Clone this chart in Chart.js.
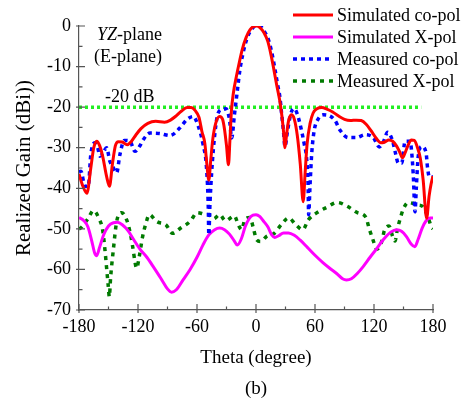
<!DOCTYPE html>
<html>
<head>
<meta charset="utf-8">
<script src="https://cdn.jsdelivr.net/npm/chart.js@4.4.0/dist/chart.umd.min.js"></script>
<style>
  html, body { margin: 0; padding: 0; background: #fff; }
</style>
</head>
<body>
<canvas id="gainChart" width="463" height="400"></canvas>
<script>
// E-plane (YZ) realized gain patterns, theta in degrees, gain in dBi
const simCoTheta = [-180, -176, -172, -168, -165, -162, -159, -156, -152, -149, -146, -143, -140, -136, -131, -127, -122, -117, -110, -102, -93, -87, -82, -76, -70, -66, -62, -58, -55, -52, -50, -48, -46, -44, -41, -37, -34, -32, -30, -28, -26.5, -25, -23, -20, -17, -14, -10, -6, -2, 1, 4, 8, 12, 15, 18, 21, 24, 26, 28, 29.5, 31, 33, 36, 39, 42, 45, 48, 50, 52, 55, 58, 62, 67, 72, 78, 84, 90, 96, 102, 107, 112, 117, 122, 127, 131, 135, 139, 143, 146, 149, 152, 155, 158, 161, 164, 167, 170, 173.5, 176, 178, 180];
const simCoGain = [-36.5, -39.5, -41.2, -35, -30, -28.4, -29.5, -32, -37, -39.5, -34, -29.5, -28.5, -28.6, -29.3, -28.5, -26.8, -25.3, -24, -23.5, -23.7, -23.2, -22.3, -21, -20.1, -20.1, -20.8, -22.5, -26, -29, -34, -38, -33, -28, -24, -22.3, -23, -25.5, -29.5, -34.2, -28, -21, -16.5, -12.5, -9, -5.8, -2.8, -0.9, -0.1, 0, -0.4, -1.6, -3.8, -6.8, -10.5, -14.5, -18.2, -21.5, -26, -30, -27, -23.5, -21.9, -23, -27, -34, -43.3, -36, -29, -24, -21.5, -20.4, -20.1, -20.5, -21.2, -22.2, -23, -23.3, -23.2, -23.3, -24.2, -25.8, -27.6, -28.8, -28.6, -28.1, -28.4, -29.6, -31, -32.5, -31, -29.2, -28.1, -28.2, -29.8, -32.5, -38, -47.4, -42, -39, -37];

const simXTheta = [-180, -175, -171, -167, -164, -162, -159, -155, -150, -145, -141, -136, -130, -124, -118, -111, -104, -96, -90, -86, -81, -74, -67, -60, -54, -48, -42, -37, -32, -27, -22, -19, -15, -11, -7, -3, 0, 4, 8, 12, 16, 19, 23, 28, 33, 39, 45, 52, 60, 68, 75, 82, 88, 92, 97, 103, 109, 116, 123, 130, 137, 143, 148, 153, 158, 161.5, 165, 169, 173, 177, 180];
const simXGain = [-47.2, -48, -49.5, -53, -56, -56.6, -54.5, -51.5, -49.3, -48.5, -48.4, -49, -50.5, -52.8, -55, -57, -59.5, -62.5, -64.8, -65.6, -65, -62.5, -60, -57, -54, -51.5, -50.2, -49.8, -50.2, -51.3, -53, -54, -52.5, -49.5, -47.5, -46.6, -46.5, -47, -48.2, -49.5, -51.5, -52.1, -51.7, -51, -51, -51.6, -52.8, -54.5, -56.5, -58.3, -59.7, -61, -62.3, -62.6, -62.3, -61, -59.3, -57, -54.8, -52.5, -50.8, -50.2, -50.6, -51.9, -53.8, -54.4, -52.5, -49.8, -48, -47.3, -47.3];

const measCoTheta = [-180, -178, -174, -170.6, -168, -164, -161, -158.7, -155, -152, -148.5, -145, -141.7, -138.4, -134, -128.2, -123.1, -118, -114.6, -107.8, -97.7, -87.5, -77.3, -70.5, -63.8, -58.7, -54, -50.2, -48.5, -48, -46.8, -43.4, -38.4, -34, -30.5, -27, -24.7, -22, -19, -16.3, -13, -9.5, -5, 0, 4, 8, 12.5, 16, 19.3, 22, 24.4, 26, 27.8, 29.5, 32, 35, 38, 40, 43, 46.5, 49, 51.6, 53, 53.5, 55, 56.7, 59.3, 63, 68.5, 73, 80.4, 85.5, 93.9, 102.4, 110.9, 119.3, 125.4, 129.5, 133.9, 139, 141.4, 144.8, 148.2, 151.6, 156.7, 158.4, 160, 161.7, 163, 165, 168.6, 173, 174.3, 176.3, 180];
const measCoGain = [-36, -35.8, -39.5, -39.5, -31.7, -28.8, -30, -32.1, -31, -30, -33.4, -35, -36.2, -31.7, -28.2, -28.4, -30.9, -29.5, -28, -26.4, -26.5, -27, -25.1, -23.1, -22.3, -24.7, -29, -35.4, -45, -51.5, -43.7, -30.5, -21.4, -20.5, -20.4, -23, -27.6, -22, -16, -10.7, -6.5, -3.3, -1, 0, 0, -1.2, -3.3, -6.5, -10.7, -14.5, -17.7, -21.5, -25.6, -29.7, -26, -22, -20.4, -20.6, -22.5, -26, -29, -33, -39.5, -46.5, -39, -31.3, -25.6, -23, -21.9, -22, -23.3, -25.7, -27.5, -27.5, -26.8, -27.5, -29.8, -28.6, -26.2, -28.4, -30.9, -33.8, -33.8, -28.4, -28.4, -31.3, -37, -45.8, -40, -32.1, -29.7, -31.3, -34.6, -37.2, -37.2];

const measXTheta = [-180, -178.3, -170.6, -165.5, -159.4, -156, -153.6, -151.9, -150.2, -149.2, -147.8, -145.1, -141.7, -136.6, -131.5, -128.2, -125.4, -123.1, -121.4, -118.7, -115.3, -111.9, -108.5, -101, -91.6, -84.8, -76.6, -67.1, -59.7, -51.9, -48.5, -43, -37, -31, -22, -18, -14.6, -11.2, -6.1, -2.7, 0.7, 4.8, 11, 18.6, 25.6, 33.3, 40.2, 47.6, 53.2, 62, 71.9, 82.7, 93.3, 103.1, 111.6, 115.3, 118.7, 122.8, 127.9, 130.5, 135.3, 139, 141.4, 143.7, 146.5, 149.8, 154.9, 159.4, 165.1, 169.6, 174.7, 178.7, 180];
const measXGain = [-50, -49.8, -47.4, -45.5, -47.6, -50.2, -55.2, -59.7, -64.2, -66.7, -61.8, -55.2, -48.2, -46, -47.8, -50.7, -54.4, -58.1, -59.7, -56.8, -51.9, -48.6, -46.5, -48.2, -49, -51.1, -49.8, -48.2, -46, -46.4, -46.5, -47.5, -46.5, -48, -46.8, -49, -50.2, -47.6, -47.2, -49.8, -52.7, -53.1, -51.8, -51.1, -49, -47.3, -48.9, -50.2, -47.8, -46, -44.7, -43.5, -44.5, -46, -47.1, -50.1, -52.5, -55, -53.1, -50.5, -49.3, -51.9, -53, -50.2, -47.6, -45.1, -43.5, -43.7, -44.1, -44.5, -47, -49.7, -50];

// -20 dB reference level
const refTheta = [-180, 168];
const refGain = [-20, -20];

const seriesNames = ['Simulated co-pol', 'Simulated X-pol', 'Measured co-pol', 'Measured X-pol'];

const SERIF = '"Liberation Serif", "Times New Roman", serif';

function pts(xs, ys) {
  return xs.map((x, i) => ({ x: x, y: ys[i] }));
}

// inward tick marks (major + minor) on the left and bottom axes
const axisTicks = {
  id: 'axisTicks',
  afterDraw(chart) {
    const { ctx, scales: { x, y } } = chart;
    ctx.save();
    ctx.strokeStyle = '#555';
    ctx.lineWidth = 1.2;
    ctx.beginPath();
    x.ticks.forEach((t, i) => {
      const px = x.getPixelForValue(t.value);
      ctx.moveTo(px, y.bottom + 3);
      ctx.lineTo(px, y.bottom - 6);
      if (i < x.ticks.length - 1) {
        const mx = x.getPixelForValue((t.value + x.ticks[i + 1].value) / 2);
        ctx.moveTo(mx, y.bottom);
        ctx.lineTo(mx, y.bottom - 3.5);
      }
    });
    y.ticks.forEach((t, i) => {
      const py = y.getPixelForValue(t.value);
      ctx.moveTo(x.left - 3, py);
      ctx.lineTo(x.left + 6, py);
      if (i < y.ticks.length - 1) {
        const my = y.getPixelForValue((t.value + y.ticks[i + 1].value) / 2);
        ctx.moveTo(x.left, my);
        ctx.lineTo(x.left + 3.5, my);
      }
    });
    ctx.stroke();
    ctx.restore();
  }
};

// plane label, reference label, caption and legend
const annotations = {
  id: 'annotations',
  afterDraw(chart) {
    const { ctx } = chart;
    ctx.save();
    ctx.fillStyle = '#000';
    ctx.textBaseline = 'middle';
    ctx.textAlign = 'left';

    ctx.font = 'italic 18px ' + SERIF;
    ctx.fillText('YZ', 97, 35);
    const w = ctx.measureText('YZ').width;
    ctx.font = '18px ' + SERIF;
    ctx.fillText('-plane', 97 + w, 35);
    ctx.fillText('(E-plane)', 94, 57);
    ctx.fillText('-20 dB', 105, 97);

    ctx.textAlign = 'center';
    ctx.font = '19px ' + SERIF;
    ctx.fillText('(b)', 256, 389);

    // legend
    ctx.textAlign = 'left';
    ctx.font = '18px ' + SERIF;
    const rowY = [15, 37, 59, 81];
    chart.data.datasets.slice(0, 4).forEach((ds, i) => {
      ctx.save();
      ctx.strokeStyle = ds.borderColor;
      ctx.lineWidth = ds.borderWidth;
      ctx.setLineDash(ds.borderDash || []);
      ctx.beginPath();
      ctx.moveTo(293, rowY[i]);
      ctx.lineTo(333, rowY[i]);
      ctx.stroke();
      ctx.restore();
      ctx.fillText(ds.label, 337, rowY[i] + 1);
    });
    ctx.restore();
  }
};

new Chart(document.getElementById('gainChart').getContext('2d'), {
  type: 'scatter',
  data: {
    datasets: [
      {
        label: seriesNames[0],
        data: pts(simCoTheta, simCoGain),
        borderColor: '#ff0000',
        borderWidth: 3,
        order: 1
      },
      {
        label: seriesNames[1],
        data: pts(simXTheta, simXGain),
        borderColor: '#ff00ff',
        borderWidth: 3,
        order: 3
      },
      {
        label: seriesNames[2],
        data: pts(measCoTheta, measCoGain),
        borderColor: '#0000ff',
        borderWidth: 3.5,
        borderDash: [4, 4],
        order: 2
      },
      {
        label: seriesNames[3],
        data: pts(measXTheta, measXGain),
        borderColor: '#007a00',
        borderWidth: 3.5,
        borderDash: [4, 5],
        order: 4
      },
      {
        label: '-20 dB',
        data: pts(refTheta, refGain),
        borderColor: '#22ee22',
        borderWidth: 3.5,
        borderDash: [3, 3],
        order: 5
      }
    ]
  },
  options: {
    responsive: false,
    animation: false,
    devicePixelRatio: 1,
    showLine: true,
    elements: {
      point: { radius: 0, hoverRadius: 0 },
      line: { fill: false, cubicInterpolationMode: 'monotone' }
    },
    layout: { padding: { left: 0, right: 30, top: 26, bottom: 25 } },
    plugins: {
      legend: { display: false },
      tooltip: { enabled: false }
    },
    scales: {
      x: {
        type: 'linear',
        min: -180,
        max: 180,
        ticks: { stepSize: 60, color: '#000', font: { family: SERIF, size: 18 }, padding: 6, maxRotation: 0 },
        grid: { display: false, drawTicks: false },
        border: { display: true, color: '#555', width: 1.2 },
        title: { display: true, text: 'Theta (degree)', color: '#000', font: { family: SERIF, size: 19 }, padding: { top: 0, bottom: 6 } },
        afterFit: s => { s.height = 65; }
      },
      y: {
        min: -70,
        max: 0,
        ticks: { stepSize: 10, color: '#000', font: { family: SERIF, size: 18 }, padding: 8 },
        grid: { display: false, drawTicks: false },
        border: { display: true, color: '#555', width: 1.2 },
        title: { display: true, text: 'Realized Gain (dBi))', color: '#000', font: { family: SERIF, size: 21 }, padding: { top: 12, bottom: 0 } },
        afterFit: s => { s.width = 79; }
      }
    }
  },
  plugins: [axisTicks, annotations]
});
</script>
</body>
</html>
